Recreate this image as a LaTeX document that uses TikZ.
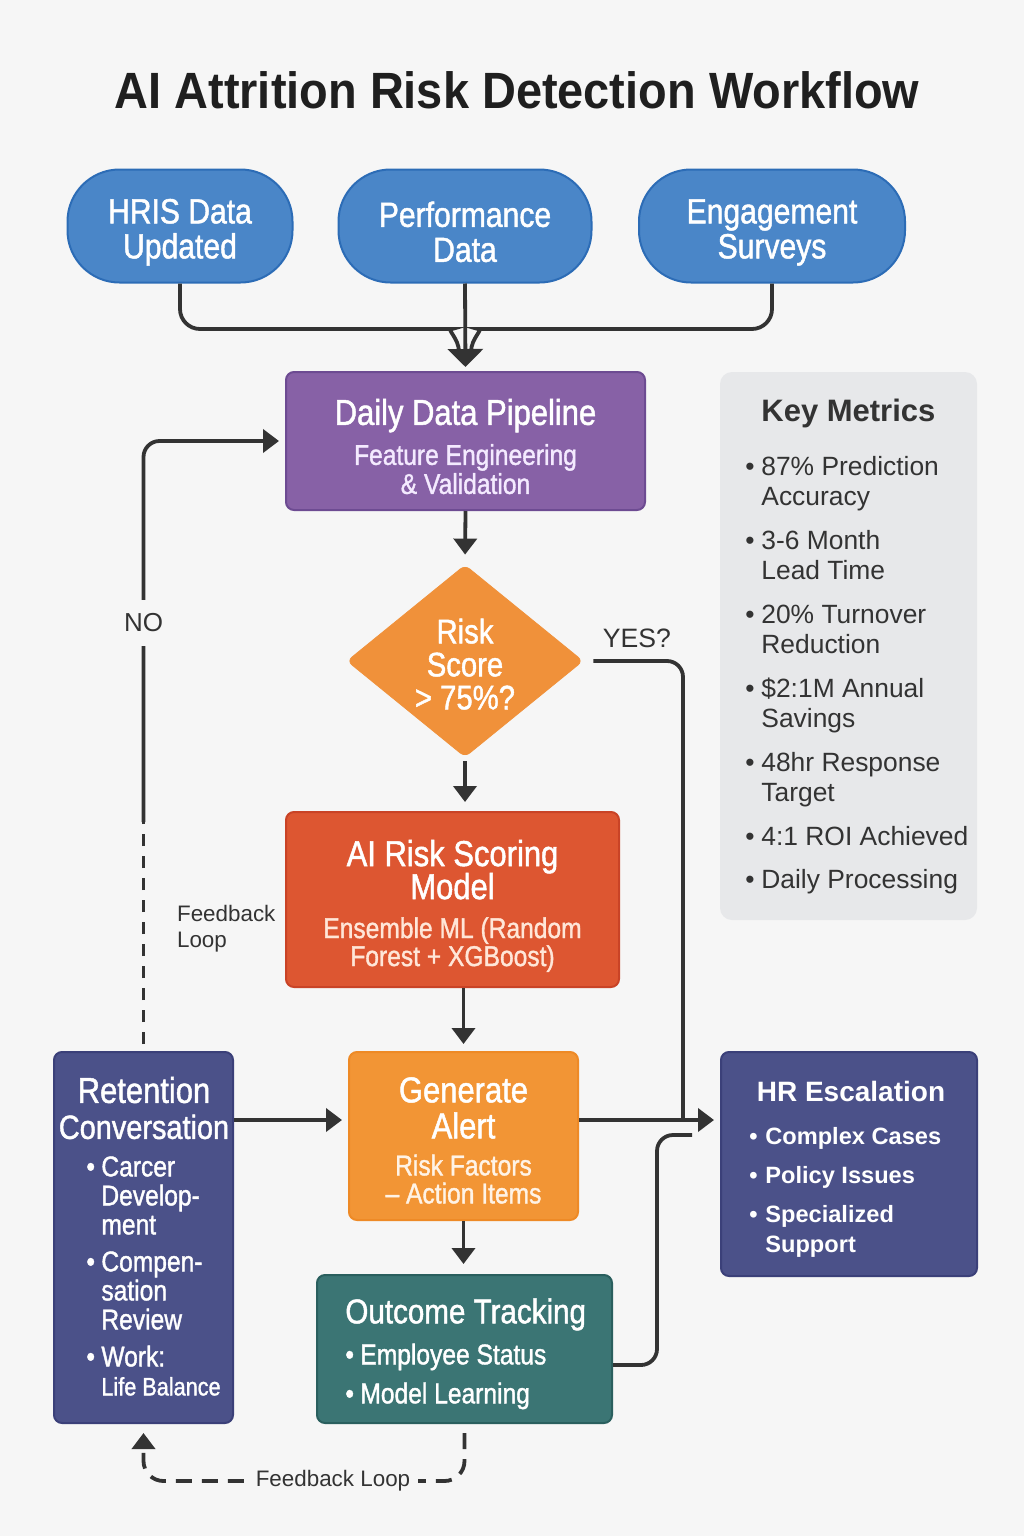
\documentclass[tikz,border=0pt]{standalone}
\usepackage{fontspec}
\setmainfont{Liberation Sans}
\newfontfamily\condfont[FakeStretch=0.86,FakeBold=1.3]{Liberation Sans}
\newfontfamily\headfont[FakeStretch=0.92]{Liberation Sans}
\usetikzlibrary{shapes,arrows.meta,positioning}

\definecolor{bgc}{HTML}{F6F6F6}
\definecolor{ink}{HTML}{333333}
\definecolor{titleink}{HTML}{1F1F1F}
\definecolor{pillblue}{HTML}{4A86C8}
\definecolor{pilledge}{HTML}{2C6CB6}
\definecolor{pipe}{HTML}{8761A6}
\definecolor{pipeedge}{HTML}{6D4B92}
\definecolor{pipesub}{HTML}{F4EAFF}
\definecolor{riskor}{HTML}{F0913A}
\definecolor{modelred}{HTML}{DD5631}
\definecolor{modeledge}{HTML}{C94326}
\definecolor{modelsub}{HTML}{FFE6D8}
\definecolor{alertor}{HTML}{F29535}
\definecolor{alertedge}{HTML}{EE8A26}
\definecolor{alertsub}{HTML}{FFF3E6}
\definecolor{trackteal}{HTML}{3B7574}
\definecolor{trackedge}{HTML}{2A5F5E}
\definecolor{indigo}{HTML}{4B5189}
\definecolor{indigoedge}{HTML}{3B4079}
\definecolor{metricgray}{HTML}{E7E8EA}

\newcommand{\ttlf}{\condfont\fontsize{18}{17.5}\selectfont}
\newcommand{\subf}{\condfont\fontsize{14.3}{14.5}\selectfont}
\newcommand{\bul}{\makebox[7.5pt][l]{\textbullet}}
\newcommand{\ind}{\hspace*{7.5pt}}
\newcommand{\mbul}{\makebox[8pt][l]{\textbullet}}
\newcommand{\mind}{\hspace*{8pt}}
\newcommand{\topstrut}{\rule{0pt}{18.5pt}}

\tikzset{
  conn/.style={draw=ink, line width=1.9pt},
  arr/.style={-{Triangle[width=11.5pt,length=8pt]}},
  pill/.style={rectangle, rounded corners=26pt, fill=pillblue, draw=pilledge, line width=1pt,
    text=white, minimum height=56.5pt, align=center, font=\condfont\fontsize{17.5}{17.5}\selectfont},
  box/.style={rectangle, rounded corners=4pt, line width=1pt, text=white, align=center, font=\ttlf},
  ltext/.style={inner sep=0pt, align=left, text=white, font=\subf},
  note/.style={text=ink, font=\fontsize{11.2}{13}\selectfont},
}

\begin{document}
\begin{tikzpicture}[x=0.5pt,y=-0.5pt]
\fill[bgc] (0,0) rectangle (1024,1536);
\useasboundingbox (0,0) rectangle (1024,1536);

\node[font=\headfont\bfseries\fontsize{25.5}{30}\selectfont, text=titleink] (title) at (517,90) {AI Attrition Risk Detection Workflow};

% data sources
\node[pill, minimum width=112.5pt] (hris) at (180,226) {\topstrut HRIS Data\\Updated};
\node[pill, minimum width=126.5pt] (perf) at (465,226) {\topstrut Performance\\Data};
\node[pill, minimum width=133pt] (engage) at (772,226) {\topstrut Engagement\\Surveys};

% main column
\node[box, fill=pipe, draw=pipeedge, minimum width=179.5pt, minimum height=69pt] (pipeline) at (465.5,441)
  {\topstrut Daily Data Pipeline\\[2.5pt]{\subf\color{pipesub}Feature Engineering}\\[-3pt]{\subf\color{pipesub}\& Validation}};
\node[diamond, aspect=1.23, fill=riskor, draw=riskor, rounded corners=3pt, text=white, align=center,
  font=\condfont\fontsize{17}{16.5}\selectfont, minimum width=118pt, minimum height=96pt, inner sep=0pt]
  (risk) at (465,661) {\rule{0pt}{15.5pt}Risk\\Score\\> 75\%?};
\node[box, fill=modelred, draw=modeledge, minimum width=166.5pt, minimum height=87.5pt] (model) at (452.5,899.5)
  {\rule{0pt}{19.5pt}AI Risk Scoring\\[-1pt]Model\\[2pt]{\subf\color{modelsub}Ensemble ML (Random}\\[-3.5pt]{\subf\color{modelsub}Forest + XGBoost)}};
\node[box, fill=alertor, draw=alertedge, minimum width=114.5pt, minimum height=84pt] (alert) at (463.5,1136)
  {\rule{0pt}{17pt}Generate\\[0.5pt]Alert\\[1pt]{\subf\color{alertsub}Risk Factors}\\[-3.5pt]{\subf\color{alertsub}\textendash\ Action Items}};
\node[box, fill=trackteal, draw=trackedge, minimum width=147.5pt, minimum height=74pt] (outcome) at (464.5,1349) {};
\node[ltext, anchor=north west] (outcomet) at (345,1298)
  {{\condfont\fontsize{17.2}{17.5}\selectfont Outcome Tracking}\\[6pt]\bul Employee Status\\[5pt]\bul Model Learning};

% side boxes
\node[box, fill=indigo, draw=indigoedge, minimum width=89.5pt, minimum height=185.5pt] (retention) at (143.5,1237.5) {};
\node[text=white, align=center, inner sep=0pt, font=\ttlf] (retentiont) at (144,1108)
  {Retention\\[0.5pt]{\condfont\fontsize{16.8}{17.5}\selectfont Conversation}};
\node[ltext, anchor=north west] (retentionl) at (86,1156)
  {\bul Carcer\\\ind Develop-\\\ind ment\\[4pt]\bul Compen-\\\ind sation\\\ind Review\\[4pt]\bul Work:\\\ind{\condfont\fontsize{12.6}{14.5}\selectfont Life Balance}};

\node[box, fill=indigo, draw=indigoedge, minimum width=128pt, minimum height=112pt] (hr) at (849,1164) {};
\node[text=white, font=\bfseries\fontsize{14}{16}\selectfont, inner sep=0pt] (hrt) at (851,1091) {HR Escalation};
\node[ltext, font=\bfseries\fontsize{11.8}{15}\selectfont, anchor=north west] (hrl) at (749,1127)
  {\mbul Complex Cases\\[4.5pt]\mbul Policy Issues\\[4.5pt]\mbul Specialized\\\mind Support};

\node[rectangle, rounded corners=6pt, fill=metricgray, minimum width=128.5pt, minimum height=274pt] (metrics) at (848.5,646) {};
\node[anchor=north west, inner sep=0pt, align=left, text=ink, font=\fontsize{13.2}{15}\selectfont] (metricst) at (745,399)
  {\mind{\bfseries\fontsize{15.5}{15}\selectfont Key Metrics}\\[12pt]
   \mbul 87\% Prediction\\\mind Accuracy\\[7pt]
   \mbul 3-6 Month\\\mind Lead Time\\[7pt]
   \mbul 20\% Turnover\\\mind Reduction\\[7pt]
   \mbul \$2:1M Annual\\\mind Savings\\[7pt]
   \mbul 48hr Response\\\mind Target\\[7pt]
   \mbul 4:1 ROI Achieved\\[6.5pt]
   \mbul Daily Processing};

% inputs merge
\coordinate (mergel) at (459,352);
\coordinate (merger) at (471,352);
\coordinate (lbend) at (432,329);
\coordinate (rbend) at (498,329);
\draw[conn, rounded corners=10pt] (hris.south) |- (lbend) to[out=0,in=90] (mergel);
\draw[conn, rounded corners=10pt] (engage.south) |- (rbend) to[out=180,in=90] (merger);
\draw[conn, -{Triangle[width=17.5pt,length=9pt]}, shorten >=2pt] (perf.south) -- (pipeline.north);

% main flow
\draw[conn, arr, shorten >=5pt] (pipeline.south) -- (risk.north);
\draw[conn, arr, shorten <=2pt, shorten >=4.5pt] (risk.south) -- (risk.south |- model.north);
\draw[conn, arr, shorten >=3.5pt] (alert.north |- model.south) -- (alert.north);
\draw[conn, arr, shorten >=5pt] (alert.south) -- (alert.south |- outcome.north);

\coordinate (midrow) at (0,1120);
\draw[conn, arr, shorten >=3pt] (retention.east |- midrow) -- (alert.west |- midrow);
\draw[conn, arr, shorten >=3pt] (alert.east |- midrow) -- (hr.west |- midrow);

% yes branch
\coordinate (yesjoin) at (683,1120);
\draw[conn, rounded corners=8pt] ([xshift=5pt]risk.east) -| (yesjoin);
\coordinate (hrback) at (692,1135);
\draw[conn, rounded corners=8pt] ([yshift=-8pt]outcome.east) -| ([xshift=-17.5pt]hrback) -- (hrback);

% no branch / feedback
\coordinate (nosolid) at (143.5,822);
\draw[conn, dash pattern=on 6pt off 5pt] ([yshift=3.5pt]retention.north) -- (nosolid);
\draw[conn, arr, rounded corners=8pt, shorten >=3pt] (nosolid) |- (pipeline.west);

\coordinate (fbrow) at (300,1481);
\draw[conn, dash pattern=on 8pt off 5pt, rounded corners=10pt, arr]
  ([yshift=-4.5pt]outcome.south) |- (fbrow) -| ([yshift=-4.5pt]retention.south);

% labels
\node[note, fill=bgc, inner xsep=3pt, inner ysep=7pt, font=\fontsize{13}{15}\selectfont] (nolbl) at (143.5,623) {NO};
\node[note, font=\fontsize{13.3}{15}\selectfont] (yeslbl) at (637,638) {YES?};
\node[note, align=left, anchor=west] (fbleft) at (170,929) {Feedback\\Loop};
\node[note, fill=bgc, inner xsep=4pt] (fbbottom) at (333,1481) {Feedback Loop};
\end{tikzpicture}
\end{document}
